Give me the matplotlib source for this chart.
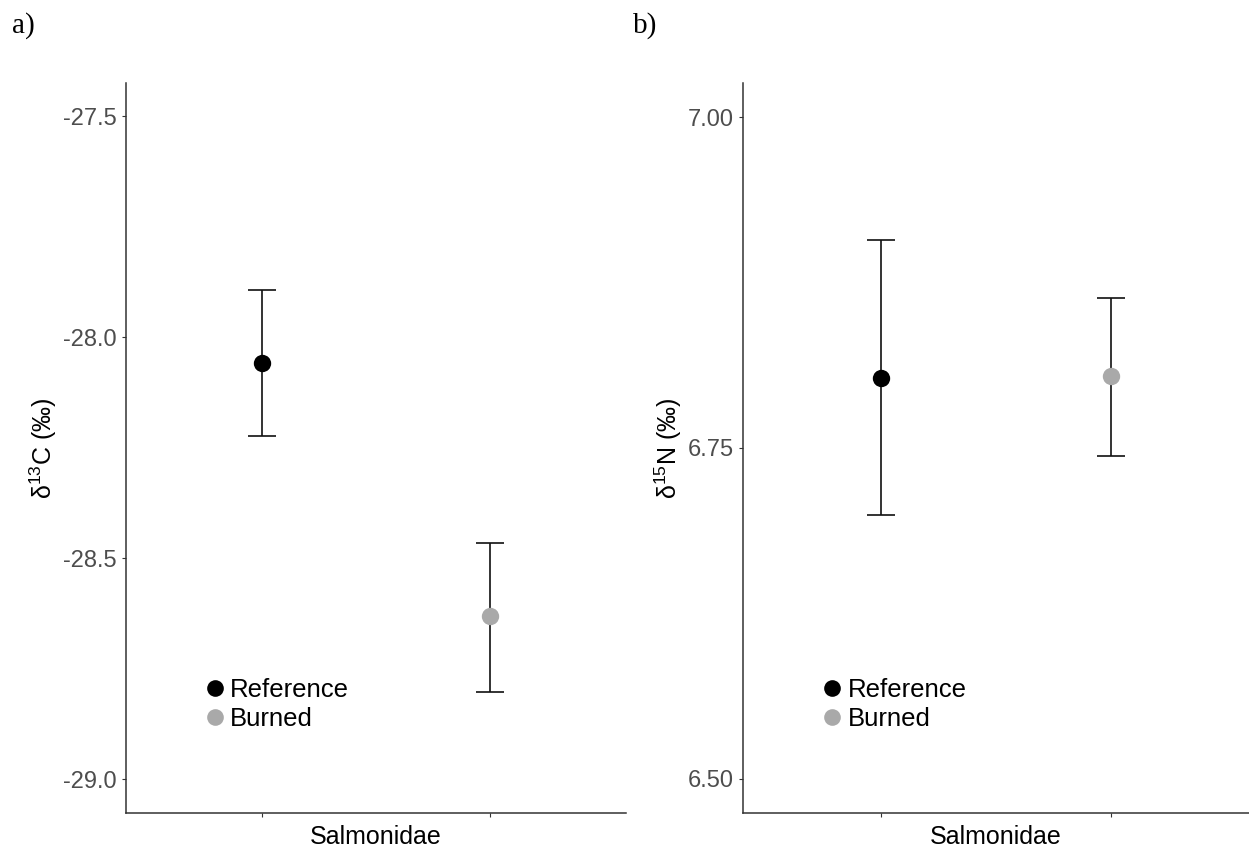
import matplotlib.pyplot as plt
from matplotlib.lines import Line2D

plt.rcParams['font.family'] = ['Liberation Sans', 'DejaVu Sans']
plt.rcParams['mathtext.fontset'] = 'custom'
plt.rcParams['mathtext.rm'] = 'Liberation Sans'
plt.rcParams['mathtext.it'] = 'Liberation Sans:italic'
plt.rcParams['mathtext.default'] = 'regular'

groups = ["Reference", "Burned"]
colors = ["#000000", "#A9A9A9"]
x_pos = [1, 2]

# panel a: d13C
c13_mean = [-28.059, -28.632]
c13_upper = [-27.893, -28.465]
c13_lower = [-28.223, -28.803]

# panel b: d15N
n15_mean = [6.803, 6.804]
n15_upper = [6.907, 6.863]
n15_lower = [6.699, 6.744]

fig = plt.figure(figsize=(12.49, 8.51), dpi=100)
ax_a = fig.add_axes([126 / 1249, 38.3 / 851, 500 / 1249, 729.7 / 851])
ax_b = fig.add_axes([742.7 / 1249, 38.3 / 851, 506 / 1249, 729.7 / 851])


def draw_panel(ax, mean, upper, lower, ylim, yticks, yfmt, ylabel, label_x):
    for i in range(len(groups)):
        err = [[mean[i] - lower[i]], [upper[i] - mean[i]]]
        ax.errorbar([x_pos[i]], [mean[i]], yerr=err, fmt='none', ecolor='#111111',
                    elinewidth=1.2, capsize=10, capthick=1.2, zorder=2)
        ax.plot([x_pos[i]], [mean[i]], 'o', color=colors[i], markersize=12.5,
                markeredgewidth=0, zorder=3)

    ax.set_xlim(0.4, 2.6)
    ax.set_ylim(*ylim)
    ax.set_xticks(x_pos)
    ax.set_xticklabels(["", ""])
    ax.set_yticks(yticks)
    ax.set_yticklabels([yfmt.format(v) for v in yticks])

    ax.spines[['right', 'top']].set_visible(False)
    for s in ['left', 'bottom']:
        ax.spines[s].set_color('#333333')
        ax.spines[s].set_linewidth(1.1)
    ax.tick_params(axis='both', length=3, width=0.8, color='#333333',
                   labelsize=17, labelcolor='#4D4D4D', pad=3.5)

    ax.set_xlabel("Salmonidae", fontsize=18, color='black', labelpad=2)
    ax.set_ylabel(ylabel, fontsize=18, color='black')
    ax.yaxis.set_label_coords(label_x, 0.5)
    ax.yaxis.label.set_va('center')

    handles = [Line2D([], [], marker='o', linestyle='none', color=c,
                      markersize=12, markeredgewidth=0) for c in colors]
    ax.legend(handles, groups, loc='center left', bbox_to_anchor=(0.157, 0.148),
              frameon=False, fontsize=18.5, handlelength=0.8, handletextpad=0.2,
              labelspacing=0.2, borderpad=0, borderaxespad=0)


draw_panel(ax_a, c13_mean, c13_upper, c13_lower, (-29.076, -27.425),
           [-29.0, -28.5, -28.0, -27.5], "{:.1f}", "δ$^{13}$C (‰)", -0.166)
draw_panel(ax_b, n15_mean, n15_upper, n15_lower, (6.4745, 7.0257),
           [6.50, 6.75, 7.00], "{:.2f}", "δ$^{15}$N (‰)", -0.148)

fig.text(12 / 1249, 1 - 33 / 851, "a)", family='Liberation Serif', fontsize=21)
fig.text(633 / 1249, 1 - 33 / 851, "b)", family='Liberation Serif', fontsize=21)

fig.savefig("out.png", dpi=100)
